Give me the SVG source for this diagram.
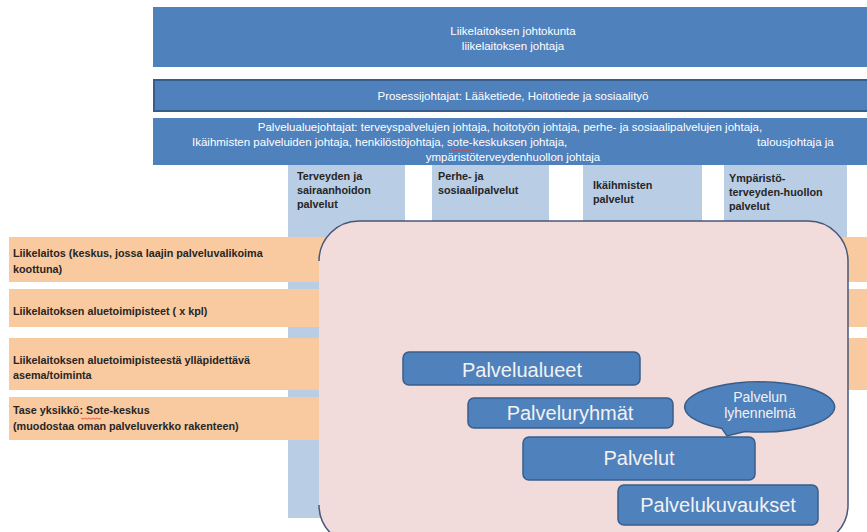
<svg xmlns="http://www.w3.org/2000/svg" width="867" height="532" viewBox="0 0 867 532">
<style>
.hdr{fill:#4f81bd}
.ht{font-family:"Liberation Sans",Arial,sans-serif;font-size:11.5px;fill:#ffffff}
.col{fill:#b9cde5}
.ct{font-family:"Liberation Sans",Arial,sans-serif;font-size:10.8px;font-weight:bold;fill:#262626}
.row{fill:#f9caa0}
.rt{font-family:"Liberation Sans",Arial,sans-serif;font-size:10.8px;font-weight:bold;fill:#262626}
.bx{fill:#4f81bd;stroke:#385d8a;stroke-width:1.5}
.bt{font-family:"Liberation Sans",Arial,sans-serif;font-size:20px;fill:#f2f2f2;text-anchor:middle}
.sq{fill:none;stroke:#e0403a;stroke-width:0.8}
</style>
<rect width="867" height="532" fill="#ffffff"/>
<g id="johtokunta">
<rect class="hdr" x="153" y="7" width="714" height="60"/>
<text class="ht" x="513" y="35" text-anchor="middle">Liikelaitoksen johtokunta</text>
<text class="ht" x="513" y="50" text-anchor="middle">liikelaitoksen johtaja</text>
</g>
<g id="prosessijohtajat">
<rect class="hdr" x="154" y="80" width="714" height="31" stroke="#385d8a" stroke-width="2"/>
<text class="ht" x="513" y="100" text-anchor="middle">Prosessijohtajat: Lääketiede, Hoitotiede ja sosiaalityö</text>
</g>
<g id="palvelualuejohtajat">
<rect class="hdr" x="153" y="118" width="714" height="47"/>
<text class="ht" x="510" y="131" text-anchor="middle">Palvelualuejohtajat: terveyspalvelujen johtaja, hoitotyön johtaja, perhe- ja sosiaalipalvelujen johtaja,</text>
<text class="ht" x="192" y="146">Ikäihmisten palveluiden johtaja,  henkilöstöjohtaja, sote-keskuksen johtaja,</text>
<text class="ht" x="757" y="146">talousjohtaja ja</text>
<text class="ht" x="513" y="161" text-anchor="middle">ympäristöterveydenhuollon johtaja</text>
<path class="sq" d="M452,150 l2,1.2 l2,-1.2 l2,1.2 l2,-1.2 l2,1.2 l2,-1.2 l2,1.2 l2,-1.2 l2,1.2 l2,-1.2 l2,1.2"/>
</g>
<g id="col-terveys">
<rect class="col" x="288" y="165" width="117" height="353"/>
<text class="ct" x="297" y="180">Terveyden ja</text>
<text class="ct" x="297" y="194">sairaanhoidon</text>
<text class="ct" x="297" y="208">palvelut</text>
</g>
<g id="col-perhe">
<rect class="col" x="432" y="165" width="117" height="353"/>
<text class="ct" x="438" y="180">Perhe- ja</text>
<text class="ct" x="438" y="194">sosiaalipalvelut</text>
</g>
<g id="col-ikaihmiset">
<rect class="col" x="583" y="165" width="119" height="353"/>
<text class="ct" x="593" y="189">Ikäihmisten</text>
<text class="ct" x="593" y="203">palvelut</text>
</g>
<g id="col-ymparisto">
<rect class="col" x="724" y="165" width="123" height="353"/>
<text class="ct" x="729" y="182">Ympäristö-</text>
<text class="ct" x="729" y="196">terveyden-huollon</text>
<text class="ct" x="729" y="210">palvelut</text>
</g>
<g id="row-liikelaitos">
<rect class="row" x="9" y="237" width="858" height="45"/>
<text class="rt" x="13" y="257">Liikelaitos (keskus, jossa laajin palveluvalikoima</text>
<text class="rt" x="13" y="273">koottuna)</text>
</g>
<g id="row-aluetoimipisteet">
<rect class="row" x="9" y="289" width="858" height="38"/>
<text class="rt" x="13" y="315">Liikelaitoksen aluetoimipisteet ( x kpl)</text>
</g>
<g id="row-asema">
<rect class="row" x="9" y="338" width="858" height="52"/>
<text class="rt" x="13" y="364">Liikelaitoksen aluetoimipisteestä ylläpidettävä</text>
<text class="rt" x="13" y="379">asema/toiminta</text>
</g>
<g id="row-tase">
<rect class="row" x="9" y="397" width="320" height="43"/>
<text class="rt" x="13" y="414">Tase yksikkö: Sote-keskus</text>
<text class="rt" x="13" y="430">(muodostaa oman palveluverkko rakenteen)</text>
<path class="sq" d="M81,418 l2,1.2 l2,-1.2 l2,1.2 l2,-1.2 l2,1.2 l2,-1.2 l2,1.2 l2,-1.2 l2,1.2 l2,-1.2"/>
</g>
<g id="palvelurakenne">
<rect x="319" y="221" width="529" height="324" rx="40" ry="40" fill="#f2dcdb"/>
<path d="M319,261 A40,40 0 0 1 359,221 H808 A40,40 0 0 1 848,261 V505 A40,40 0 0 1 808,545 H359 A40,40 0 0 1 319,505" fill="none" stroke="#46587a" stroke-width="1.5"/>
</g>
<g id="palvelualueet">
<rect class="bx" x="403" y="352" width="237" height="33" rx="6"/>
<text class="bt" x="522" y="377">Palvelualueet</text>
</g>
<g id="palveluryhmat">
<rect class="bx" x="468" y="398" width="205" height="30" rx="6"/>
<text class="bt" x="570" y="420">Palveluryhmät</text>
</g>
<g id="palvelut">
<rect class="bx" x="523" y="437" width="232" height="43" rx="6"/>
<text class="bt" x="639" y="465">Palvelut</text>
</g>
<g id="palvelukuvaukset">
<rect class="bx" x="618" y="485" width="200" height="40" rx="6"/>
<text class="bt" x="718" y="512">Palvelukuvaukset</text>
</g>
<g id="palvelun-lyhennelma">
<path d="M745,431.5 L727,436 L722,428.6 A75,25 0 1 1 745,431.5 Z" fill="#4f81bd" stroke="#385d8a" stroke-width="1.5"/>
<text x="760" y="402" font-family="'Liberation Sans',Arial,sans-serif" font-size="14" fill="#f2f2f2" text-anchor="middle">Palvelun</text>
<text x="760" y="418" font-family="'Liberation Sans',Arial,sans-serif" font-size="14" fill="#f2f2f2" text-anchor="middle">lyhennelmä</text>
</g>
<g id="connectors"/>
</svg>
